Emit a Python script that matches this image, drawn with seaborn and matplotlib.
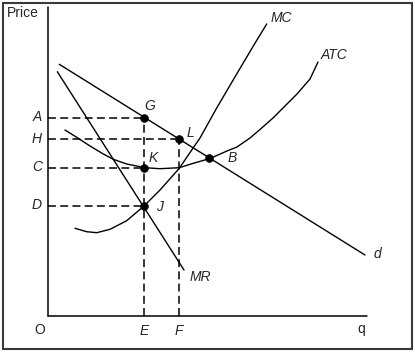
import pandas as pd
import matplotlib.pyplot as plt
import seaborn as sns
from matplotlib.patches import Rectangle

sns.set_style('white')
plt.rcParams['font.family'] = ['Liberation Sans', 'DejaVu Sans']

# curves (q = quantity, p = price)
mc_q = [27, 38.7, 48.7, 62, 78.7, 96, 112, 131.3, 142, 152, 168.7, 188.7, 205.3, 218.7]
mc_p = [87.7, 84.3, 83.3, 86.7, 95.3, 110, 126, 147.7, 163.5, 178, 208, 242, 270, 292]

atc_q = [17, 28.7, 42, 55.3, 65.3, 78.7, 97, 112, 131.3, 145.3, 162, 179, 189, 202,
         212, 225, 237, 249, 262, 270]
atc_p = [186, 178.7, 170, 162, 156.7, 152, 148.3, 147.3, 148.3, 152.7, 157.5, 165, 169, 178,
         186.5, 198, 210, 222, 237, 254]

d_q = [11.3, 317]
d_p = [251.7, 61]

mr_q = [9.3, 136]
mr_p = [244.3, 46]

# marked points
pt_names = ['G', 'L', 'K', 'J', 'B']
pt_q = [96, 131.3, 96, 96, 161.3]
pt_p = [198.3, 176.6, 148.3, 110.3, 157.9]

# price levels and quantities on the axes
price_names = ['A', 'H', 'C', 'D']
price_vals = [198.3, 176.6, 148.3, 110.3]
price_ends = [96, 131.3, 96, 96]
qty_names = ['E', 'F']
qty_vals = [96, 131.3]
qty_tops = [198.3, 176.6]

fig = plt.figure(figsize=(4.15, 3.52), dpi=100)
ax = fig.add_axes([0, 0, 1, 1])
ax.set_xlim(-48, 367)
ax.set_ylim(-36, 316)
ax.axis('off')

# frame around the picture
fig.patches.append(Rectangle((3/415, 3/352), 409/415, 346/352, transform=fig.transFigure,
                             fill=False, edgecolor='#3a3a3a', linewidth=1.5))

# axes
ax.plot([0, 0], [0, 309], color='black', lw=1.1)
ax.plot([0, 319], [0, 0], color='black', lw=1.1)

dash = (0, (5.2, 2.8))
for v, e in zip(price_vals, price_ends):
    ax.plot([0, e], [v, v], color='black', lw=1.1, linestyle=dash)
for v, t in zip(qty_vals, qty_tops):
    ax.plot([v, v], [0, t], color='black', lw=1.1, linestyle=dash)

curves = [(mc_q, mc_p), (atc_q, atc_p), (d_q, d_p), (mr_q, mr_p)]
for cq, cp in curves:
    sns.lineplot(x=cq, y=cp, ax=ax, color='black', lw=1.0, sort=False, estimator=None)

sns.scatterplot(x=pt_q, y=pt_p, ax=ax, color='black', s=32, edgecolor='black', zorder=5)

ital = dict(fontsize=10, style='italic', ha='center', va='center')
ax.text(233.7, 297.7, 'MC', **ital)
ax.text(286, 261, 'ATC', **ital)
ax.text(329.7, 62, 'd', **ital)
ax.text(152.3, 39.3, 'MR', **ital)

lab_off = {'G': (5.3, 11.7), 'L': (11.4, 6.7), 'K': (9.3, 9.4), 'J': (16, -1), 'B': (23.4, -0.2)}
for n, q, p in zip(pt_names, pt_q, pt_p):
    dx, dy = lab_off[n]
    ax.text(q + dx, p + dy, n, **ital)

for n, v in zip(price_names, price_vals):
    ax.text(-11, v + 0.8, n, **ital)
for n, v in zip(qty_names, qty_vals):
    ax.text(v, -15, n, **ital)

ax.text(-8, -14, 'O', fontsize=10, ha='center', va='center')
ax.text(313.7, -13.3, 'q', fontsize=10, ha='center', va='center')
ax.text(-25, 303.3, 'Price', fontsize=10, ha='center', va='center')

plt.savefig('out.png', dpi=100)
